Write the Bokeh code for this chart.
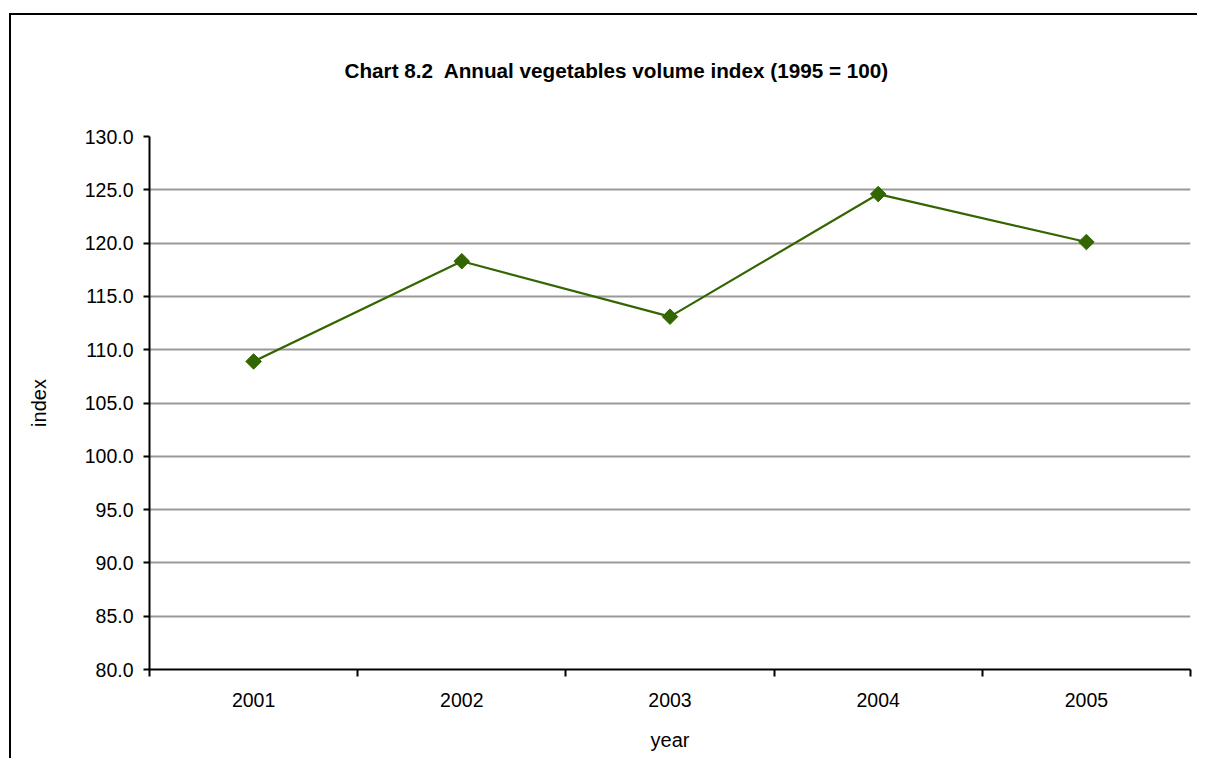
import math
from bokeh.plotting import figure
from bokeh.models import (FixedTicker, NumeralTickFormatter, Range1d, Title,
                          CustomJSTickFormatter, InlineStyleSheet)
from bokeh.embed import file_html
from bokeh.resources import INLINE

# ---- data ----
years = [2001, 2002, 2003, 2004, 2005]
year_labels = ["2001", "2002", "2003", "2004", "2005"]
index_values = [108.9, 118.3, 113.1, 124.6, 120.1]
y_ticks = [80, 85, 90, 95, 100, 105, 110, 115, 120, 125, 130]

title_text = "Chart 8.2\u00a0 Annual vegetables volume index (1995 = 100)"
FONT = "Liberation Sans"
LINE = "#336600"

p = figure(width=1197, height=758, output_backend="svg", toolbar_location=None,
           x_range=Range1d(2000.5, 2005.5), y_range=Range1d(80, 130),
           min_border_left=149, min_border_right=7, min_border_top=136,
           min_border_bottom=89)
p.outline_line_color = None
p.background_fill_color = "white"
p.border_fill_color = "white"

# outer chart border (left and top edges visible in the window)
p.stylesheets = [InlineStyleSheet(css="""
:host::after {
  content: '';
  position: absolute;
  left: 9px; top: 13px; right: 0px; bottom: 0px;
  border-left: 2.5px solid black;
  border-top: 2.5px solid black;
  pointer-events: none;
}
""")]

xa = p.below[0]
ya = p.left[0]

# title
t = Title(text=title_text, align="left", offset=195, text_font=FONT,
          text_font_size="20.7px", text_font_style="bold", text_color="black",
          standoff=110)
p.add_layout(t, "above")

# x axis
xa.ticker = FixedTicker(ticks=years,
                        minor_ticks=[2000.5, 2001.5, 2002.5, 2003.5, 2004.5, 2005.5])
xa.formatter = CustomJSTickFormatter(args=dict(labels=year_labels, years=years),
                                     code="return labels[years.indexOf(Math.round(tick))];")
xa.major_tick_out = 0
xa.major_tick_in = 0
xa.minor_tick_out = 7
xa.minor_tick_in = 0
xa.minor_tick_line_width = 2
xa.minor_tick_line_color = "black"
xa.axis_line_width = 2
xa.axis_line_color = "black"
xa.major_label_text_font = FONT
xa.major_label_text_font_size = "19.5px"
xa.major_label_text_color = "black"
xa.major_label_standoff = 16
xa.axis_label = "year"
xa.axis_label_text_font = FONT
xa.axis_label_text_font_size = "20px"
xa.axis_label_text_font_style = "normal"
xa.axis_label_text_color = "black"
xa.axis_label_standoff = 19

# y axis
ya.ticker = FixedTicker(ticks=y_ticks)
ya.formatter = NumeralTickFormatter(format="0.0")
ya.major_tick_out = 6
ya.major_tick_in = 0
ya.minor_tick_out = 0
ya.minor_tick_in = 0
ya.major_tick_line_width = 2
ya.major_tick_line_color = "black"
ya.axis_line_width = 2
ya.axis_line_color = "black"
ya.major_label_text_font = FONT
ya.major_label_text_font_size = "19.5px"
ya.major_label_text_color = "black"
ya.major_label_standoff = 10
ya.axis_label = "index"
ya.axis_label_text_font = FONT
ya.axis_label_text_font_size = "20px"
ya.axis_label_text_font_style = "normal"
ya.axis_label_text_color = "black"
ya.axis_label_standoff = 32

# grid
p.xgrid.grid_line_color = None
p.ygrid.ticker = FixedTicker(ticks=y_ticks)
p.ygrid.grid_line_color = "#999999"
p.ygrid.grid_line_width = 2

# series
p.line(years, index_values, line_color=LINE, line_width=2.2)
p.scatter(years, index_values, marker="square", angle=math.pi / 4, size=11,
          fill_color=LINE, line_color=LINE)

open("out.html", "w").write(file_html(p, INLINE))
